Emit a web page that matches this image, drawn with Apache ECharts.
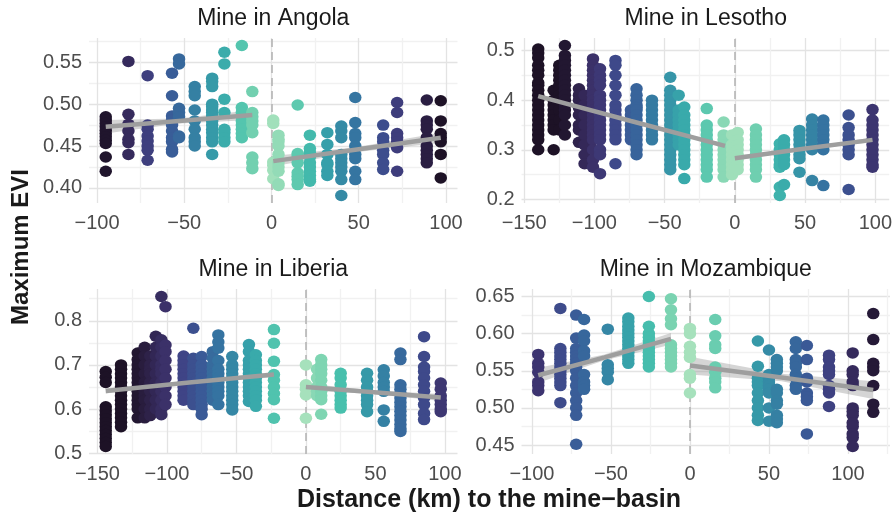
<!DOCTYPE html>
<html>
<head>
<meta charset="utf-8">
<script src="https://cdn.jsdelivr.net/npm/echarts@6/dist/echarts.min.js"></script>
<style>
  html, body { margin: 0; padding: 0; background: #fff; }
  #main { width: 895px; height: 513px; }
</style>
</head>
<body>
<div id="main"></div>
<script>
// distances (km) of each sampled column, and the EVI values read in each column
var angolaDist = [-95, -82, -71, -57, -53, -44, -34, -27, -17, -11, 1, 4, 15, 22, 32, 40, 48, 64, 72, 89, 97];
var angolaEvi = [
    [0.485, 0.481, 0.477, 0.473, 0.469, 0.465, 0.461, 0.457, 0.453, 0.437, 0.420],
    [0.551, 0.488, 0.476, 0.468, 0.458, 0.454, 0.440],
    [0.534, 0.475, 0.470, 0.462, 0.456, 0.450, 0.445, 0.433],
    [0.537, 0.510, 0.486, 0.481, 0.475, 0.468, 0.460, 0.455, 0.446, 0.443],
    [0.554, 0.548, 0.495, 0.490, 0.485, 0.462, 0.460],
    [0.521, 0.515, 0.510, 0.493, 0.480, 0.470, 0.460, 0.455, 0.450],
    [0.531, 0.527, 0.521, 0.500, 0.497, 0.493, 0.490, 0.486, 0.480, 0.475, 0.470, 0.466, 0.460, 0.455, 0.440],
    [0.562, 0.548, 0.506, 0.490, 0.470, 0.466, 0.460, 0.455],
    [0.570, 0.496, 0.490, 0.485, 0.480, 0.475, 0.470, 0.465, 0.460],
    [0.515, 0.490, 0.485, 0.480, 0.475, 0.466, 0.437, 0.430, 0.423],
    [0.481, 0.477, 0.431, 0.427, 0.421, 0.411],
    [0.463, 0.458, 0.455, 0.450, 0.440, 0.430, 0.425, 0.420, 0.405, 0.403],
    [0.499, 0.441, 0.438, 0.430, 0.418, 0.414, 0.410, 0.404],
    [0.463, 0.447, 0.442, 0.437, 0.430, 0.425, 0.420, 0.415, 0.410, 0.408],
    [0.466, 0.452, 0.440, 0.430, 0.428, 0.420, 0.415],
    [0.474, 0.468, 0.460, 0.440, 0.435, 0.430, 0.425, 0.420, 0.410, 0.391],
    [0.508, 0.478, 0.465, 0.460, 0.450, 0.440, 0.435, 0.420, 0.410],
    [0.475, 0.460, 0.455, 0.445, 0.440, 0.430, 0.422],
    [0.502, 0.490, 0.465, 0.460, 0.455, 0.448, 0.420],
    [0.505, 0.480, 0.475, 0.470, 0.460, 0.450, 0.445, 0.440, 0.435, 0.430],
    [0.504, 0.480, 0.465, 0.460, 0.455, 0.440, 0.412]
];

var lesothoDist = [-140, -129, -125, -121, -111, -107, -101, -96, -85, -74, -70, -59, -46, -40, -36, -20, -8, -2, 2, 15, 32, 35, 46, 55, 63, 81, 98];
var lesothoEvi = [
    [0.503, 0.495, 0.485, 0.470, 0.460, 0.450, 0.435, 0.430, 0.420, 0.410, 0.400, 0.390, 0.380, 0.370, 0.360, 0.350, 0.340, 0.330, 0.320, 0.300],
    [0.420, 0.400, 0.390, 0.380, 0.370, 0.360, 0.350, 0.340, 0.300],
    [0.470, 0.460, 0.450, 0.440, 0.430, 0.420, 0.410, 0.400, 0.390, 0.380, 0.360, 0.340],
    [0.510, 0.490, 0.480, 0.470, 0.460, 0.450, 0.440, 0.430, 0.420, 0.410, 0.400, 0.390, 0.380, 0.370, 0.350, 0.330],
    [0.423, 0.410, 0.400, 0.385, 0.370, 0.350, 0.340, 0.315],
    [0.410, 0.390, 0.370, 0.350, 0.330, 0.310, 0.290, 0.272],
    [0.483, 0.470, 0.460, 0.450, 0.440, 0.430, 0.420, 0.410, 0.400, 0.390, 0.380, 0.370, 0.360, 0.350, 0.340, 0.330, 0.320, 0.300, 0.280, 0.265],
    [0.463, 0.450, 0.440, 0.430, 0.410, 0.400, 0.390, 0.380, 0.370, 0.360, 0.350, 0.340, 0.330, 0.320, 0.300, 0.290, 0.252],
    [0.480, 0.470, 0.450, 0.430, 0.410, 0.390, 0.380, 0.370, 0.360, 0.350, 0.340, 0.330, 0.320, 0.272],
    [0.380, 0.370, 0.360, 0.350, 0.340, 0.330, 0.320],
    [0.423, 0.410, 0.400, 0.390, 0.385, 0.380, 0.370, 0.360, 0.350, 0.340, 0.330, 0.320, 0.310, 0.300, 0.290],
    [0.400, 0.390, 0.380, 0.370, 0.360, 0.350, 0.340, 0.330, 0.320],
    [0.446, 0.420, 0.410, 0.400, 0.390, 0.380, 0.370, 0.360, 0.350, 0.340, 0.330, 0.320, 0.310, 0.300, 0.290, 0.280, 0.270, 0.260],
    [0.410, 0.380, 0.370, 0.360, 0.350, 0.340, 0.330, 0.320, 0.310],
    [0.386, 0.370, 0.360, 0.350, 0.340, 0.330, 0.320, 0.310, 0.300, 0.290, 0.280, 0.270, 0.242],
    [0.383, 0.350, 0.340, 0.330, 0.320, 0.310, 0.300, 0.290, 0.280, 0.270, 0.260, 0.245],
    [0.356, 0.330, 0.320, 0.310, 0.300, 0.290, 0.280, 0.270, 0.260, 0.245],
    [0.330, 0.310, 0.300, 0.290, 0.280, 0.270, 0.260, 0.250],
    [0.335, 0.320, 0.310, 0.300, 0.290, 0.280, 0.270, 0.260],
    [0.342, 0.330, 0.320, 0.310, 0.300, 0.290, 0.280, 0.270, 0.260, 0.245],
    [0.312, 0.300, 0.290, 0.280, 0.270, 0.265, 0.225, 0.208],
    [0.320, 0.310, 0.300, 0.290, 0.280, 0.270, 0.230],
    [0.339, 0.330, 0.320, 0.310, 0.300, 0.290, 0.282, 0.255],
    [0.362, 0.350, 0.340, 0.330, 0.320, 0.310, 0.300, 0.238],
    [0.360, 0.350, 0.340, 0.330, 0.320, 0.310, 0.300, 0.228],
    [0.370, 0.345, 0.330, 0.320, 0.310, 0.300, 0.290, 0.220],
    [0.381, 0.360, 0.350, 0.340, 0.330, 0.320, 0.310, 0.300, 0.290, 0.280, 0.270, 0.265]
];

var liberiaDist = [-144, -133, -121, -116, -112, -108, -104, -101, -88, -81, -75, -67, -63, -53, -41, -36, -23, 0, 8, 11, 25, 44, 56, 68, 85, 97];
var liberiaEvi = [
    [0.685, 0.672, 0.660, 0.605, 0.596, 0.587, 0.578, 0.569, 0.560, 0.551, 0.542, 0.533, 0.524, 0.515],
    [0.700, 0.690, 0.680, 0.670, 0.660, 0.650, 0.640, 0.630, 0.620, 0.610, 0.600, 0.590, 0.580, 0.570, 0.560],
    [0.727, 0.712, 0.700, 0.690, 0.680, 0.670, 0.660, 0.650, 0.640, 0.630, 0.620, 0.610, 0.600, 0.580],
    [0.740, 0.720, 0.700, 0.680, 0.660, 0.650, 0.640, 0.630, 0.620, 0.600, 0.580],
    [0.720, 0.700, 0.690, 0.680, 0.660, 0.640, 0.620, 0.600, 0.585],
    [0.765, 0.740, 0.720, 0.700, 0.680, 0.660, 0.640, 0.620, 0.600],
    [0.855, 0.757, 0.740, 0.720, 0.700, 0.690, 0.680, 0.660, 0.640, 0.620, 0.600, 0.587],
    [0.832, 0.745, 0.730, 0.710, 0.690, 0.670, 0.650, 0.630, 0.610],
    [0.720, 0.710, 0.700, 0.690, 0.680, 0.670, 0.660, 0.650, 0.640, 0.630, 0.620],
    [0.783, 0.715, 0.700, 0.690, 0.680, 0.670, 0.660, 0.650, 0.640, 0.630, 0.620, 0.610],
    [0.719, 0.700, 0.690, 0.680, 0.670, 0.660, 0.650, 0.640, 0.630, 0.620, 0.610, 0.600, 0.587],
    [0.730, 0.715, 0.700, 0.690, 0.680, 0.670, 0.660, 0.650, 0.640, 0.630, 0.620],
    [0.768, 0.752, 0.738, 0.710, 0.690, 0.680, 0.670, 0.660, 0.650, 0.640, 0.630, 0.610],
    [0.719, 0.700, 0.690, 0.680, 0.670, 0.660, 0.650, 0.640, 0.630, 0.620, 0.610, 0.598],
    [0.746, 0.730, 0.710, 0.700, 0.690, 0.680, 0.670, 0.660, 0.650, 0.640, 0.630, 0.617],
    [0.723, 0.710, 0.700, 0.690, 0.680, 0.670, 0.660, 0.650, 0.640, 0.630, 0.620, 0.606],
    [0.780, 0.749, 0.708, 0.678, 0.665, 0.650, 0.635, 0.621, 0.579],
    [0.700, 0.655, 0.645, 0.632, 0.579],
    [0.690, 0.670, 0.650, 0.640, 0.630],
    [0.712, 0.700, 0.690, 0.680, 0.665, 0.650, 0.640, 0.630, 0.621, 0.588],
    [0.681, 0.670, 0.655, 0.640, 0.630, 0.620, 0.610, 0.602],
    [0.681, 0.665, 0.650, 0.640, 0.630, 0.620, 0.610, 0.594],
    [0.689, 0.675, 0.660, 0.650, 0.640, 0.598, 0.572],
    [0.727, 0.712, 0.655, 0.645, 0.635, 0.625, 0.615, 0.605, 0.595, 0.585, 0.575, 0.565, 0.555, 0.549],
    [0.764, 0.719, 0.695, 0.685, 0.670, 0.655, 0.640, 0.625, 0.610, 0.590, 0.576],
    [0.659, 0.645, 0.630, 0.620, 0.610, 0.600, 0.594]
];

var mozambiqueDist = [-96, -82, -72, -67, -52, -39, -26, -12, 0, 16, 43, 50, 55, 67, 74, 88, 103, 116];
var mozambiqueEvi = [
    [0.572, 0.560, 0.555, 0.548, 0.535, 0.530, 0.523],
    [0.634, 0.580, 0.575, 0.570, 0.565, 0.560, 0.555, 0.550, 0.545, 0.540, 0.535, 0.530, 0.507],
    [0.625, 0.594, 0.580, 0.575, 0.570, 0.565, 0.560, 0.555, 0.550, 0.540, 0.530, 0.520, 0.510, 0.500, 0.490, 0.451],
    [0.619, 0.598, 0.590, 0.577, 0.570, 0.545, 0.535, 0.530, 0.525],
    [0.606, 0.558, 0.553, 0.548, 0.538],
    [0.621, 0.616, 0.610, 0.605, 0.600, 0.595, 0.590, 0.585, 0.580, 0.575, 0.570, 0.565, 0.560],
    [0.650, 0.610, 0.600, 0.595, 0.590, 0.585, 0.580, 0.575, 0.570, 0.565, 0.560, 0.555],
    [0.647, 0.632, 0.620, 0.612, 0.585, 0.580, 0.575, 0.570, 0.565, 0.560, 0.555],
    [0.607, 0.600, 0.583, 0.575, 0.568, 0.545, 0.540, 0.520],
    [0.619, 0.597, 0.585, 0.580, 0.555, 0.548, 0.540, 0.535, 0.527],
    [0.590, 0.556, 0.540, 0.535, 0.530, 0.520, 0.510, 0.500, 0.490, 0.483],
    [0.578, 0.545, 0.540, 0.535, 0.530, 0.525, 0.520, 0.500, 0.482],
    [0.565, 0.560, 0.555, 0.550, 0.525, 0.520, 0.510, 0.505, 0.490, 0.485, 0.480],
    [0.589, 0.580, 0.565, 0.560, 0.555, 0.545, 0.540, 0.530, 0.525],
    [0.584, 0.565, 0.540, 0.535, 0.520, 0.515, 0.510, 0.465],
    [0.571, 0.565, 0.555, 0.550, 0.545, 0.530, 0.525, 0.520, 0.502],
    [0.574, 0.550, 0.545, 0.535, 0.530, 0.500, 0.495, 0.490, 0.480, 0.475, 0.465, 0.460, 0.448],
    [0.627, 0.592, 0.560, 0.555, 0.550, 0.530, 0.505, 0.494]
];

// linear fits (start, middle, end) with the half width of their confidence band
var angolaFits = [
    { x: [-95, -53, -11], y: [0.473, 0.480, 0.487], ci: [0.008, 0.003, 0.006] },
    { x: [1, 49, 97], y: [0.432, 0.446, 0.460], ci: [0.006, 0.003, 0.006] }
];
var lesothoFits = [
    { x: [-140, -74, -7], y: [0.408, 0.358, 0.308], ci: [0.005, 0.002, 0.004] },
    { x: [0, 49, 98], y: [0.283, 0.302, 0.320], ci: [0.005, 0.002, 0.005] }
];
var liberiaFits = [
    { x: [-144, -84, -23], y: [0.641, 0.660, 0.678], ci: [0.006, 0.003, 0.006] },
    { x: [0, 49, 97], y: [0.650, 0.638, 0.626], ci: [0.008, 0.004, 0.008] }
];
var mozambiqueFits = [
    { x: [-96, -54, -12], y: [0.544, 0.568, 0.593], ci: [0.010, 0.004, 0.008] },
    { x: [0, 58, 116], y: [0.557, 0.541, 0.524], ci: [0.012, 0.005, 0.012] }
];

// tick labels
var angolaXTicks = [-100, -50, 0, 50, 100];
var angolaYTicks = [0.40, 0.45, 0.50, 0.55];
var lesothoXTicks = [-150, -100, -50, 0, 50, 100];
var lesothoYTicks = [0.2, 0.3, 0.4, 0.5];
var liberiaXTicks = [-150, -100, -50, 0, 50, 100];
var liberiaYTicks = [0.5, 0.6, 0.7, 0.8];
var mozambiqueXTicks = [-100, -50, 0, 50, 100];
var mozambiqueYTicks = [0.45, 0.50, 0.55, 0.60, 0.65];

var panels = [
    { title: "Mine in Angola", dist: angolaDist, evi: angolaEvi, fits: angolaFits, xTicks: angolaXTicks, yTicks: angolaYTicks, digits: 2, colorMax: 97 },
    { title: "Mine in Lesotho", dist: lesothoDist, evi: lesothoEvi, fits: lesothoFits, xTicks: lesothoXTicks, yTicks: lesothoYTicks, digits: 1, colorMax: 125 },
    { title: "Mine in Liberia", dist: liberiaDist, evi: liberiaEvi, fits: liberiaFits, xTicks: liberiaXTicks, yTicks: liberiaYTicks, digits: 1, colorMax: 125 },
    { title: "Mine in Mozambique", dist: mozambiqueDist, evi: mozambiqueEvi, fits: mozambiqueFits, xTicks: mozambiqueXTicks, yTicks: mozambiqueYTicks, digits: 2, colorMax: 122 }
];

// mako-like ramp, near the mine -> far from it
var mako = ["#A6E1BC", "#79D3B1", "#48C0AD", "#37A7AB", "#358DA6", "#3574A1", "#3A5A97", "#3F4587", "#3C326C", "#2D2148", "#1D1226"];

var gridBox = [[89, 38], [521.5, 38], [89, 289], [521.5, 289]];
var gridW = 368.5, gridH = 165;
var fontFam = '"Liberation Sans", Arial, sans-serif';

function expand(vals) {
    var lo = Math.min.apply(null, vals), hi = Math.max.apply(null, vals);
    var pad = (hi - lo) * 0.05;
    return [lo - pad, hi + pad];
}

// major + minor grid positions inside the range
function gridTicks(major, ext) {
    var step = major[1] - major[0];
    var out = [];
    for (var v = major[0] - step; v <= major[major.length - 1] + step + 1e-9; v += step / 2) {
        var r = +v.toFixed(6);
        if (r >= ext[0] && r <= ext[1]) out.push(r);
    }
    return out;
}
function gridColors(ticks, major) {
    return ticks.map(function (t) {
        var isMajor = major.some(function (m) { return Math.abs(m - t) < 1e-9; });
        return isMajor ? "#e3e3e3" : "#f1f1f1";
    });
}

// confidence band drawn as trapezoids between consecutive fit points
function renderBand(params, api) {
    var n = params.dataInsideLength;
    if (params.dataIndexInside >= n - 1) return null;
    var k = params.dataIndexInside;
    var a0 = api.coord([api.value(0, k), api.value(1, k)]);
    var a1 = api.coord([api.value(0, k + 1), api.value(1, k + 1)]);
    var b1 = api.coord([api.value(0, k + 1), api.value(2, k + 1)]);
    var b0 = api.coord([api.value(0, k), api.value(2, k)]);
    return {
        type: "polygon",
        shape: { points: [a0, a1, b1, b0] },
        style: { fill: "rgba(150,150,150,0.4)", stroke: null }
    };
}

var grids = [], xAxes = [], yAxes = [], series = [], graphics = [];

panels.forEach(function (p, i) {
    var ys = [];
    p.evi.forEach(function (col) { ys = ys.concat(col); });
    var xExt = expand(p.dist);
    var yExt = expand(ys);

    grids.push({ left: gridBox[i][0], top: gridBox[i][1], width: gridW, height: gridH });

    var xt = gridTicks(p.xTicks, xExt);
    var yt = gridTicks(p.yTicks, yExt);

    xAxes.push({
        type: "value", gridIndex: i, min: xExt[0], max: xExt[1],
        axisLine: { show: false },
        axisTick: { show: false, customValues: xt },
        axisLabel: {
            customValues: p.xTicks, color: "#4d4d4d", fontSize: 20, fontFamily: fontFam, margin: 10,
            formatter: function (v) { return v < 0 ? "\u2212" + (-v) : String(v); }
        },
        splitLine: { show: true, lineStyle: { color: gridColors(xt, p.xTicks), width: 1.3 } }
    });
    yAxes.push({
        type: "value", gridIndex: i, min: yExt[0], max: yExt[1],
        axisLine: { show: false },
        axisTick: { show: false, customValues: yt },
        axisLabel: {
            customValues: p.yTicks, color: "#4d4d4d", fontSize: 20, fontFamily: fontFam, margin: 7,
            formatter: function (v) { return v.toFixed(p.digits); }
        },
        splitLine: { show: true, lineStyle: { color: gridColors(yt, p.yTicks), width: 1.3 } }
    });

    var pts = [];
    p.dist.forEach(function (d, k) {
        p.evi[k].forEach(function (v) { pts.push([d, v]); });
    });
    series.push({
        type: "scatter", xAxisIndex: i, yAxisIndex: i, data: pts,
        symbolSize: [12.5, 11.5],
        itemStyle: {
            opacity: 1,
            color: function (q) {
                return echarts.color.lerp(Math.min(1, Math.abs(q.value[0]) / p.colorMax), mako);
            }
        },
        // dashed line at the mine-basin border
        markLine: {
            symbol: "none", silent: true, label: { show: false }, z: 1,
            lineStyle: { color: "#b5b5b5", width: 1.6, type: [8, 5] },
            data: [{ xAxis: 0 }]
        }
    });

    p.fits.forEach(function (f) {
        series.push({
            type: "custom", xAxisIndex: i, yAxisIndex: i, silent: true,
            renderItem: renderBand,
            encode: { x: 0, y: [1, 2] },
            data: f.x.map(function (x, k) { return [x, f.y[k] - f.ci[k], f.y[k] + f.ci[k]]; })
        });
        series.push({
            type: "line", xAxisIndex: i, yAxisIndex: i, symbol: "none", silent: true,
            lineStyle: { color: "#9e9e9e", width: 4.5 },
            data: f.x.map(function (x, k) { return [x, f.y[k]]; })
        });
    });

    graphics.push({
        type: "text", x: gridBox[i][0] + gridW / 2, y: gridBox[i][1] - 19,
        style: {
            text: p.title, fill: "#1a1a1a", font: "23px " + fontFam,
            align: "center", verticalAlign: "middle", textAlign: "center", textVerticalAlign: "middle"
        }
    });
});

graphics.push({
    type: "text", x: 21, y: 247, rotation: Math.PI / 2,
    style: {
        text: "Maximum EVI", fill: "#1a1a1a", font: "bold 24px " + fontFam,
        align: "center", verticalAlign: "middle", textAlign: "center", textVerticalAlign: "middle"
    }
});
graphics.push({
    type: "text", x: 489, y: 500,
    style: {
        text: "Distance (km) to the mine\u2212basin", fill: "#1a1a1a", font: "bold 25px " + fontFam,
        align: "center", verticalAlign: "middle", textAlign: "center", textVerticalAlign: "middle"
    }
});

var myChart = echarts.init(document.getElementById("main"));
myChart.setOption({
    animation: false,
    backgroundColor: "#ffffff",
    grid: grids,
    xAxis: xAxes,
    yAxis: yAxes,
    series: series,
    graphic: graphics
});
</script>
</body>
</html>
